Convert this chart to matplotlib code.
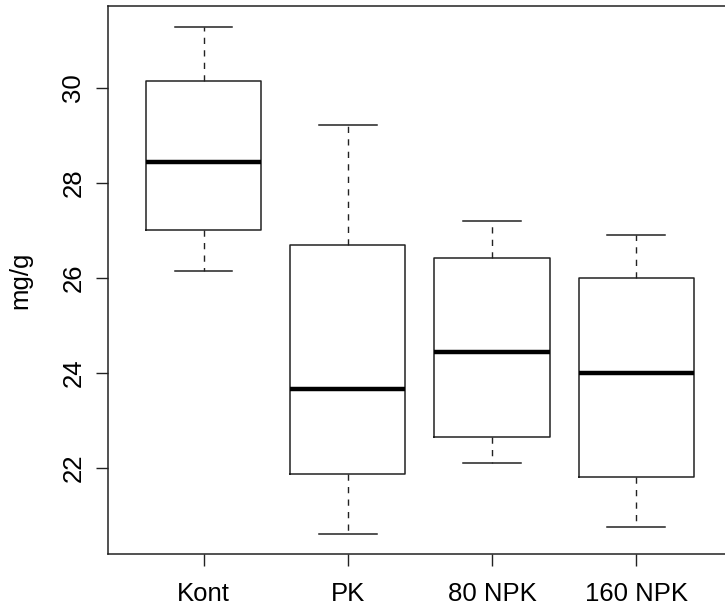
import matplotlib
matplotlib.use("Agg")
import matplotlib.pyplot as plt

plt.rcParams['font.family'] = ['Liberation Sans', 'DejaVu Sans']

# five-number summaries per treatment (mg/g)
groups = ['Kont', 'PK', '80 NPK', '160 NPK']
whisker_low = [26.15, 20.62, 22.11, 20.76]
q1 = [27.02, 21.87, 22.66, 21.82]
medians = [28.44, 23.67, 24.45, 24.00]
q3 = [30.15, 26.70, 26.43, 26.01]
whisker_high = [31.29, 29.22, 27.21, 26.90]

stats = []
for i, name in enumerate(groups):
    stats.append(dict(label=name, whislo=whisker_low[i], q1=q1[i], med=medians[i],
                      q3=q3[i], whishi=whisker_high[i], fliers=[]))

fig = plt.figure(figsize=(7.25, 6.07), dpi=100)
ax = fig.add_axes([0.1494, 0.0873, 0.8596, 0.9023])

line_col = '#222222'
ax.bxp(stats, positions=range(1, len(groups) + 1), widths=0.8,
       boxprops=dict(color=line_col, linewidth=1.1),
       medianprops=dict(color='black', linewidth=3.2, solid_capstyle='butt'),
       whiskerprops=dict(color=line_col, linewidth=1.0, linestyle=(0, (4.5, 4.5))),
       capprops=dict(color=line_col, linewidth=1.1),
       capwidths=0.4, showfliers=False)

ax.set_xlim(0.34, 4.66)
ax.set_ylim(20.19, 31.72)
ax.set_yticks([22, 24, 26, 28, 30])
ax.set_xticks(range(1, len(groups) + 1))
ax.set_xticklabels(groups)
for lab in ax.get_yticklabels():
    lab.set_rotation(90)
    lab.set_va('center')
ax.tick_params(axis='both', direction='out', length=8.5, width=1.0, color=line_col,
               labelsize=18.5)
ax.tick_params(axis='x', pad=11.5)
ax.tick_params(axis='y', pad=8)
for sp in ax.spines.values():
    sp.set_color(line_col)
    sp.set_linewidth(1.1)
ax.set_ylabel('mg/g', fontsize=18.5, labelpad=21)

fig.savefig('out.png', dpi=100)
